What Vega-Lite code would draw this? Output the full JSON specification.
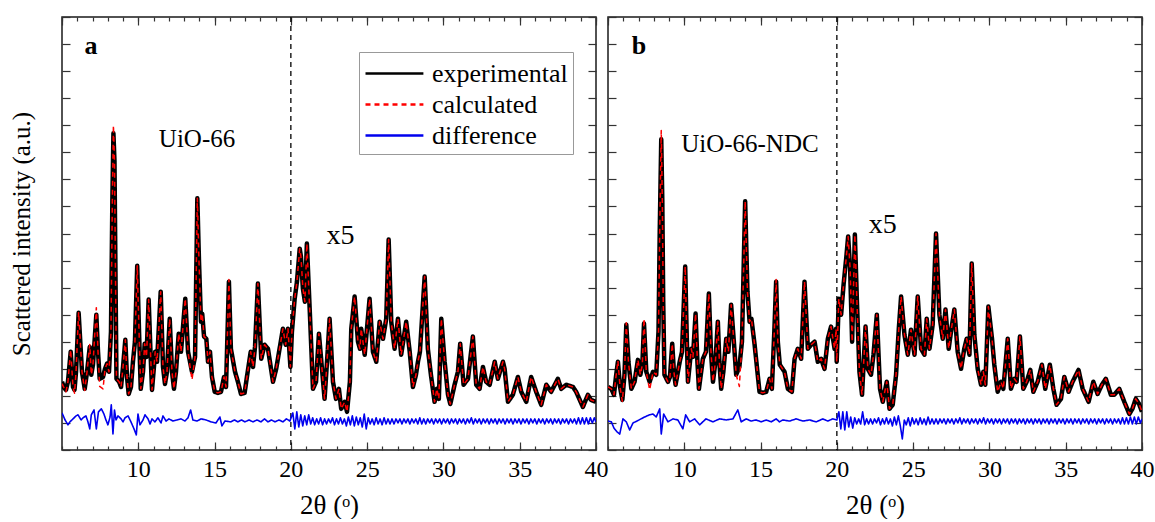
{
  "$schema": "https://vega.github.io/schema/vega-lite/v6.json",
  "background": "white",
  "padding": {"left": 8, "top": 15, "right": 0, "bottom": 0},
  "spacing": 12,
  "bounds": "flush",
  "datasets": {
    "a": [
      {"x":5.00,"e":2.52,"c":2.45},{"x":5.13,"e":2.30,"c":2.30},{"x":5.26,"e":2.22,"c":2.15},{"x":5.39,"e":2.52,"c":2.52},{"x":5.57,"e":3.63,"c":3.70},{"x":5.72,"e":2.33,"c":2.33},{"x":5.82,"e":2.22,"c":2.10},{"x":5.92,"e":2.89,"c":2.89},{"x":6.09,"e":5.07,"c":5.10},{"x":6.21,"e":3.89,"c":3.89},{"x":6.31,"e":2.89,"c":2.89},{"x":6.49,"e":2.26,"c":2.20},{"x":6.64,"e":2.89,"c":2.89},{"x":6.82,"e":3.81,"c":3.90},{"x":6.92,"e":2.78,"c":2.78},{"x":7.03,"e":3.15,"c":3.15},{"x":7.25,"e":5.00,"c":5.26},{"x":7.36,"e":3.63,"c":3.63},{"x":7.47,"e":2.63,"c":2.35},{"x":7.69,"e":2.70,"c":2.26},{"x":7.82,"e":3.00,"c":3.00},{"x":7.95,"e":3.19,"c":3.19},{"x":8.08,"e":2.89,"c":2.89},{"x":8.21,"e":4.37,"c":4.37},{"x":8.30,"e":9.19,"c":9.19},{"x":8.37,"e":11.70,"c":12.00},{"x":8.44,"e":10.67,"c":10.67},{"x":8.51,"e":6.22,"c":6.22},{"x":8.57,"e":2.63,"c":2.63},{"x":8.74,"e":2.52,"c":2.52},{"x":8.87,"e":2.33,"c":2.33},{"x":9.00,"e":3.07,"c":3.07},{"x":9.15,"e":4.07,"c":4.07},{"x":9.26,"e":2.70,"c":2.70},{"x":9.37,"e":2.07,"c":2.07},{"x":9.52,"e":2.33,"c":2.33},{"x":9.65,"e":3.26,"c":3.26},{"x":9.78,"e":4.00,"c":4.00},{"x":9.93,"e":6.81,"c":6.81},{"x":10.05,"e":4.37,"c":4.37},{"x":10.16,"e":2.26,"c":2.26},{"x":10.31,"e":2.89,"c":2.89},{"x":10.42,"e":3.93,"c":3.93},{"x":10.54,"e":3.44,"c":3.44},{"x":10.68,"e":5.56,"c":5.56},{"x":10.80,"e":3.63,"c":3.63},{"x":10.90,"e":2.22,"c":2.22},{"x":11.11,"e":3.63,"c":3.63},{"x":11.23,"e":3.26,"c":3.26},{"x":11.47,"e":5.85,"c":5.85},{"x":11.62,"e":3.07,"c":3.07},{"x":11.75,"e":2.44,"c":2.44},{"x":11.88,"e":2.89,"c":2.89},{"x":12.06,"e":4.85,"c":4.85},{"x":12.21,"e":2.89,"c":2.89},{"x":12.34,"e":2.26,"c":2.26},{"x":12.47,"e":2.89,"c":2.89},{"x":12.65,"e":4.30,"c":4.30},{"x":12.80,"e":3.63,"c":3.63},{"x":13.08,"e":5.59,"c":5.59},{"x":13.26,"e":3.63,"c":3.63},{"x":13.52,"e":2.89,"c":2.59},{"x":13.72,"e":3.44,"c":3.44},{"x":13.87,"e":9.30,"c":9.30},{"x":13.98,"e":6.96,"c":6.96},{"x":14.11,"e":4.74,"c":4.74},{"x":14.19,"e":5.04,"c":5.04},{"x":14.31,"e":4.19,"c":4.19},{"x":14.46,"e":4.11,"c":4.11},{"x":14.57,"e":3.26,"c":3.26},{"x":14.70,"e":3.63,"c":3.63},{"x":14.83,"e":2.70,"c":2.70},{"x":15.01,"e":2.15,"c":2.15},{"x":15.22,"e":2.11,"c":2.11},{"x":15.42,"e":2.15,"c":2.15},{"x":15.62,"e":2.70,"c":2.70},{"x":15.75,"e":2.33,"c":2.33},{"x":15.94,"e":6.22,"c":6.30},{"x":16.07,"e":3.74,"c":3.74},{"x":16.34,"e":2.89,"c":2.89},{"x":16.53,"e":2.52,"c":2.52},{"x":16.73,"e":2.07,"c":2.07},{"x":16.97,"e":2.11,"c":2.11},{"x":17.12,"e":2.70,"c":2.70},{"x":17.37,"e":3.63,"c":3.63},{"x":17.52,"e":3.07,"c":3.07},{"x":17.65,"e":3.81,"c":3.81},{"x":17.84,"e":6.15,"c":6.15},{"x":18.06,"e":3.37,"c":3.37},{"x":18.28,"e":3.89,"c":3.89},{"x":18.50,"e":3.74,"c":3.74},{"x":18.63,"e":3.26,"c":3.26},{"x":18.83,"e":2.52,"c":2.52},{"x":19.04,"e":3.00,"c":3.00},{"x":19.15,"e":3.37,"c":3.37},{"x":19.48,"e":4.48,"c":4.48},{"x":19.66,"e":3.89,"c":3.89},{"x":19.81,"e":4.48,"c":4.48},{"x":19.97,"e":3.07,"c":3.07},{"x":20.07,"e":4.37,"c":4.37},{"x":20.25,"e":5.59,"c":5.59},{"x":20.40,"e":6.22,"c":6.22},{"x":20.58,"e":7.44,"c":7.44},{"x":20.66,"e":7.15,"c":7.15},{"x":20.79,"e":5.96,"c":5.96},{"x":20.92,"e":5.48,"c":5.48},{"x":21.05,"e":7.63,"c":7.63},{"x":21.25,"e":5.00,"c":5.00},{"x":21.45,"e":2.26,"c":2.26},{"x":21.65,"e":2.52,"c":2.52},{"x":21.84,"e":4.30,"c":4.30},{"x":22.04,"e":3.00,"c":3.00},{"x":22.21,"e":1.89,"c":1.89},{"x":22.37,"e":3.26,"c":3.26},{"x":22.54,"e":4.85,"c":4.85},{"x":22.76,"e":2.52,"c":2.52},{"x":22.96,"e":1.89,"c":1.89},{"x":23.15,"e":2.26,"c":2.26},{"x":23.30,"e":1.52,"c":1.52},{"x":23.53,"e":1.78,"c":1.78},{"x":23.68,"e":1.41,"c":1.41},{"x":23.87,"e":2.52,"c":2.52},{"x":23.96,"e":4.48,"c":4.48},{"x":24.18,"e":5.67,"c":5.67},{"x":24.40,"e":4.00,"c":4.00},{"x":24.53,"e":3.74,"c":3.74},{"x":24.61,"e":4.48,"c":4.48},{"x":24.84,"e":3.52,"c":3.52},{"x":25.16,"e":5.59,"c":5.59},{"x":25.38,"e":3.63,"c":3.63},{"x":25.60,"e":3.26,"c":3.26},{"x":25.82,"e":4.74,"c":4.74},{"x":26.04,"e":4.11,"c":4.11},{"x":26.25,"e":4.85,"c":4.85},{"x":26.41,"e":7.78,"c":7.78},{"x":26.58,"e":4.74,"c":4.74},{"x":26.80,"e":3.74,"c":3.74},{"x":27.02,"e":4.85,"c":4.85},{"x":27.23,"e":3.52,"c":3.52},{"x":27.56,"e":4.74,"c":4.74},{"x":27.79,"e":3.63,"c":3.63},{"x":28.00,"e":2.33,"c":2.33},{"x":28.20,"e":2.78,"c":2.78},{"x":28.33,"e":3.26,"c":3.26},{"x":28.46,"e":3.63,"c":3.63},{"x":28.77,"e":6.41,"c":6.41},{"x":28.98,"e":3.74,"c":3.74},{"x":29.18,"e":2.78,"c":2.78},{"x":29.42,"e":1.78,"c":1.78},{"x":29.57,"e":2.26,"c":2.26},{"x":29.70,"e":1.89,"c":1.89},{"x":29.86,"e":4.85,"c":4.85},{"x":30.08,"e":3.26,"c":3.26},{"x":30.30,"e":2.04,"c":2.04},{"x":30.45,"e":1.70,"c":1.70},{"x":30.73,"e":2.41,"c":2.41},{"x":30.95,"e":2.89,"c":2.89},{"x":31.10,"e":3.93,"c":3.93},{"x":31.32,"e":2.41,"c":2.41},{"x":31.61,"e":2.63,"c":2.63},{"x":31.93,"e":4.19,"c":4.19},{"x":32.15,"e":2.41,"c":2.41},{"x":32.37,"e":2.26,"c":2.26},{"x":32.59,"e":3.07,"c":3.07},{"x":32.80,"e":2.52,"c":2.52},{"x":33.03,"e":2.41,"c":2.41},{"x":33.36,"e":3.26,"c":3.26},{"x":33.57,"e":2.63,"c":2.63},{"x":33.90,"e":3.26,"c":3.26},{"x":34.01,"e":3.00,"c":3.00},{"x":34.23,"e":1.78,"c":1.78},{"x":34.55,"e":2.04,"c":2.04},{"x":34.88,"e":2.70,"c":2.70},{"x":35.10,"e":2.15,"c":2.15},{"x":35.43,"e":1.78,"c":1.78},{"x":35.75,"e":2.70,"c":2.70},{"x":36.08,"e":2.15,"c":2.15},{"x":36.41,"e":1.67,"c":1.67},{"x":36.74,"e":2.41,"c":2.41},{"x":37.06,"e":2.15,"c":2.15},{"x":37.50,"e":2.63,"c":2.63},{"x":37.72,"e":2.26,"c":2.26},{"x":38.05,"e":2.41,"c":2.41},{"x":38.49,"e":2.33,"c":2.33},{"x":38.70,"e":2.15,"c":2.15},{"x":39.14,"e":1.59,"c":1.59},{"x":39.47,"e":2.04,"c":2.04},{"x":39.67,"e":1.85,"c":1.85},{"x":40.00,"e":1.78,"c":1.78}
    ],
    "ad": [
      {"x":5.00,"d":1.37},{"x":5.20,"d":1.11},{"x":5.39,"d":0.93},{"x":5.52,"d":1.04},{"x":5.72,"d":1.15},{"x":5.92,"d":1.26},{"x":6.05,"d":1.30},{"x":6.25,"d":1.11},{"x":6.38,"d":1.19},{"x":6.57,"d":1.26},{"x":6.70,"d":1.04},{"x":6.82,"d":0.78},{"x":6.92,"d":1.30},{"x":7.10,"d":1.48},{"x":7.25,"d":0.78},{"x":7.39,"d":1.41},{"x":7.58,"d":1.52},{"x":7.75,"d":1.33},{"x":7.88,"d":1.11},{"x":8.01,"d":0.93},{"x":8.15,"d":1.22},{"x":8.23,"d":1.67},{"x":8.34,"d":0.59},{"x":8.44,"d":1.48},{"x":8.54,"d":1.11},{"x":8.67,"d":1.26},{"x":8.87,"d":1.15},{"x":9.00,"d":1.04},{"x":9.13,"d":1.19},{"x":9.33,"d":1.26},{"x":9.52,"d":1.04},{"x":9.72,"d":0.78},{"x":9.87,"d":0.56},{"x":9.98,"d":1.33},{"x":10.11,"d":0.93},{"x":10.31,"d":1.11},{"x":10.44,"d":1.30},{"x":10.64,"d":1.15},{"x":10.77,"d":0.96},{"x":10.90,"d":1.15},{"x":11.09,"d":1.04},{"x":11.29,"d":1.19},{"x":11.49,"d":1.00},{"x":11.62,"d":1.26},{"x":11.82,"d":1.07},{"x":12.01,"d":1.15},{"x":12.27,"d":1.07},{"x":12.54,"d":1.11},{"x":12.80,"d":1.15},{"x":13.06,"d":1.07},{"x":13.26,"d":1.19},{"x":13.43,"d":1.48},{"x":13.58,"d":1.11},{"x":13.85,"d":1.07},{"x":14.11,"d":1.15},{"x":14.44,"d":1.11},{"x":14.76,"d":1.04},{"x":15.09,"d":1.00},{"x":15.35,"d":1.22},{"x":15.48,"d":0.89},{"x":15.68,"d":1.07},{"x":16.07,"d":1.04},{"x":16.30,"d":1.11},{"x":16.53,"d":1.04},{"x":16.76,"d":1.11},{"x":16.99,"d":1.04},{"x":17.26,"d":1.11},{"x":17.52,"d":1.04},{"x":17.78,"d":1.11},{"x":18.04,"d":1.04},{"x":18.27,"d":1.15},{"x":18.50,"d":1.04},{"x":18.73,"d":1.11},{"x":18.96,"d":1.04},{"x":19.22,"d":1.11},{"x":19.48,"d":1.04},{"x":19.71,"d":1.15},{"x":19.94,"d":1.07},
      {"x":20.13,"d":1.37},{"x":20.26,"d":0.78},{"x":20.39,"d":1.41},{"x":20.52,"d":0.85},{"x":20.65,"d":1.30},{"x":20.78,"d":0.89},{"x":20.91,"d":1.26},{"x":21.04,"d":0.93},{"x":21.17,"d":1.30},{"x":21.30,"d":0.96},{"x":21.43,"d":1.19},{"x":21.56,"d":0.93},{"x":21.69,"d":1.15},{"x":21.82,"d":0.96},{"x":21.95,"d":1.19},{"x":22.08,"d":0.93},{"x":22.21,"d":1.15},{"x":22.34,"d":0.96},{"x":22.47,"d":1.15},{"x":22.60,"d":1.00},{"x":22.73,"d":1.19},{"x":22.86,"d":0.93},{"x":22.99,"d":1.15},{"x":23.12,"d":0.96},{"x":23.25,"d":1.19},{"x":23.38,"d":0.96},{"x":23.51,"d":1.15},{"x":23.64,"d":0.89},{"x":23.77,"d":1.22},{"x":23.90,"d":0.93},{"x":24.03,"d":1.26},{"x":24.16,"d":0.89},{"x":24.29,"d":1.22},{"x":24.42,"d":0.93},{"x":24.55,"d":1.19},{"x":24.68,"d":0.85},{"x":24.81,"d":1.33},{"x":24.94,"d":0.78},{"x":25.07,"d":1.19},{"x":25.20,"d":0.96},{"x":25.33,"d":1.15},{"x":25.46,"d":0.93},{"x":25.59,"d":1.19},{"x":25.72,"d":0.96},{"x":25.85,"d":1.15},{"x":25.98,"d":0.93},{"x":26.11,"d":1.19},{"x":26.24,"d":0.96},{"x":26.37,"d":1.15},{"x":26.50,"d":0.96},{"x":26.63,"d":1.15},{"x":26.76,"d":0.96},{"x":26.89,"d":1.15},{"x":27.02,"d":1.00},{"x":27.15,"d":1.15},{"x":27.28,"d":0.96},{"x":27.41,"d":1.15},{"x":27.54,"d":1.00},{"x":27.67,"d":1.15},{"x":27.80,"d":0.96},{"x":27.93,"d":1.15},{"x":28.06,"d":1.00},{"x":28.19,"d":1.15},{"x":28.32,"d":0.96},{"x":28.45,"d":1.19},{"x":28.58,"d":0.96},{"x":28.71,"d":1.15},{"x":28.84,"d":0.96},{"x":28.97,"d":1.15},{"x":29.10,"d":1.00},{"x":29.23,"d":1.15},{"x":29.36,"d":0.96},{"x":29.49,"d":1.15},{"x":29.62,"d":1.00},{"x":29.75,"d":1.15},{"x":29.88,"d":0.96},{"x":30.01,"d":1.15},{"x":30.14,"d":1.00},{"x":30.27,"d":1.15},{"x":30.40,"d":0.96},{"x":30.53,"d":1.15},{"x":30.66,"d":1.00},{"x":30.79,"d":1.15},{"x":30.92,"d":0.96},{"x":31.05,"d":1.15},{"x":31.18,"d":1.00},{"x":31.31,"d":1.15},{"x":31.44,"d":0.96},{"x":31.57,"d":1.15},{"x":31.70,"d":1.00},{"x":31.83,"d":1.19},{"x":31.96,"d":0.96},{"x":32.09,"d":1.15},{"x":32.22,"d":1.00},{"x":32.35,"d":1.15},{"x":32.48,"d":0.96},{"x":32.61,"d":1.15},{"x":32.74,"d":1.00},{"x":32.87,"d":1.15},{"x":33.00,"d":0.96},{"x":33.13,"d":1.15},{"x":33.26,"d":1.00},{"x":33.39,"d":1.15},{"x":33.52,"d":0.96},{"x":33.65,"d":1.15},{"x":33.78,"d":1.00},{"x":33.91,"d":1.15},{"x":34.04,"d":0.96},{"x":34.17,"d":1.15},{"x":34.30,"d":1.00},{"x":34.43,"d":1.15},{"x":34.56,"d":0.96},{"x":34.69,"d":1.15},{"x":34.82,"d":1.00},{"x":34.95,"d":1.15},{"x":35.08,"d":0.96},{"x":35.21,"d":1.15},{"x":35.34,"d":1.00},{"x":35.47,"d":1.15},{"x":35.60,"d":0.96},{"x":35.73,"d":1.15},{"x":35.86,"d":1.00},{"x":35.99,"d":1.15},{"x":36.12,"d":0.96},{"x":36.25,"d":1.15},{"x":36.38,"d":1.00},{"x":36.51,"d":1.15},{"x":36.64,"d":0.96},{"x":36.77,"d":1.15},{"x":36.90,"d":1.00},{"x":37.03,"d":1.15},{"x":37.16,"d":0.96},{"x":37.29,"d":1.15},{"x":37.42,"d":1.00},{"x":37.55,"d":1.15},{"x":37.68,"d":0.96},{"x":37.81,"d":1.15},{"x":37.94,"d":1.00},{"x":38.07,"d":1.15},{"x":38.20,"d":0.96},{"x":38.33,"d":1.15},{"x":38.46,"d":1.00},{"x":38.59,"d":1.15},{"x":38.72,"d":0.96},{"x":38.85,"d":1.19},{"x":38.98,"d":0.96},{"x":39.11,"d":1.19},{"x":39.24,"d":0.96},{"x":39.37,"d":1.19},{"x":39.50,"d":0.96},{"x":39.63,"d":1.19},{"x":39.76,"d":1.00},{"x":39.89,"d":1.19},{"x":40.00,"d":1.04}
    ],
    "b": [
      {"x":5.00,"e":2.33,"c":2.33},{"x":5.22,"e":2.26,"c":2.26},{"x":5.39,"e":2.04,"c":2.04},{"x":5.52,"e":2.70,"c":2.70},{"x":5.65,"e":3.26,"c":3.30},{"x":5.79,"e":2.33,"c":2.33},{"x":5.94,"e":1.85,"c":1.80},{"x":6.08,"e":2.78,"c":2.78},{"x":6.20,"e":4.63,"c":4.70},{"x":6.34,"e":3.26,"c":3.26},{"x":6.53,"e":2.26,"c":2.26},{"x":6.74,"e":2.52,"c":2.52},{"x":6.96,"e":3.33,"c":3.33},{"x":7.12,"e":2.78,"c":2.78},{"x":7.25,"e":3.15,"c":3.15},{"x":7.36,"e":4.67,"c":4.85},{"x":7.51,"e":2.89,"c":2.89},{"x":7.73,"e":2.52,"c":2.22},{"x":7.95,"e":2.89,"c":2.89},{"x":8.16,"e":2.78,"c":2.78},{"x":8.31,"e":4.37,"c":4.37},{"x":8.39,"e":8.07,"c":8.07},{"x":8.49,"e":11.48,"c":11.81},{"x":8.56,"e":9.19,"c":9.19},{"x":8.62,"e":5.48,"c":5.48},{"x":8.70,"e":2.78,"c":2.78},{"x":8.93,"e":2.52,"c":2.52},{"x":9.06,"e":2.70,"c":2.70},{"x":9.21,"e":3.93,"c":3.93},{"x":9.32,"e":2.89,"c":2.89},{"x":9.43,"e":2.41,"c":2.41},{"x":9.70,"e":3.26,"c":3.26},{"x":9.85,"e":3.63,"c":3.63},{"x":10.06,"e":6.78,"c":6.78},{"x":10.17,"e":4.00,"c":4.00},{"x":10.24,"e":2.52,"c":2.52},{"x":10.46,"e":3.74,"c":3.74},{"x":10.57,"e":3.44,"c":3.44},{"x":10.74,"e":5.04,"c":5.04},{"x":10.86,"e":3.26,"c":3.26},{"x":10.96,"e":2.26,"c":2.26},{"x":11.22,"e":3.37,"c":3.37},{"x":11.42,"e":3.63,"c":3.63},{"x":11.61,"e":5.78,"c":5.78},{"x":11.75,"e":3.63,"c":3.63},{"x":11.88,"e":2.52,"c":2.52},{"x":12.04,"e":3.26,"c":3.26},{"x":12.20,"e":4.74,"c":4.74},{"x":12.30,"e":3.26,"c":3.26},{"x":12.42,"e":2.26,"c":2.26},{"x":12.56,"e":2.89,"c":2.89},{"x":12.75,"e":4.11,"c":4.11},{"x":12.89,"e":3.63,"c":3.63},{"x":13.07,"e":5.37,"c":5.37},{"x":13.25,"e":4.00,"c":4.00},{"x":13.40,"e":2.78,"c":2.78},{"x":13.61,"e":3.07,"c":2.35},{"x":13.78,"e":4.00,"c":4.00},{"x":13.99,"e":9.19,"c":9.19},{"x":14.14,"e":5.85,"c":5.85},{"x":14.28,"e":4.74,"c":4.74},{"x":14.40,"e":4.85,"c":4.85},{"x":14.61,"e":3.89,"c":3.89},{"x":14.76,"e":3.07,"c":3.07},{"x":14.93,"e":2.15,"c":2.15},{"x":15.15,"e":2.11,"c":2.11},{"x":15.37,"e":2.15,"c":2.15},{"x":15.59,"e":2.63,"c":2.63},{"x":15.74,"e":2.26,"c":2.26},{"x":15.90,"e":4.37,"c":4.37},{"x":16.02,"e":6.22,"c":6.30},{"x":16.13,"e":4.00,"c":4.00},{"x":16.26,"e":3.15,"c":3.15},{"x":16.57,"e":2.89,"c":2.89},{"x":16.79,"e":2.26,"c":2.26},{"x":17.05,"e":2.15,"c":2.15},{"x":17.23,"e":3.37,"c":3.37},{"x":17.44,"e":3.74,"c":3.74},{"x":17.66,"e":3.37,"c":3.37},{"x":17.88,"e":6.22,"c":6.22},{"x":18.10,"e":3.74,"c":3.74},{"x":18.31,"e":3.89,"c":3.89},{"x":18.54,"e":4.00,"c":4.00},{"x":18.75,"e":3.26,"c":3.26},{"x":18.97,"e":3.37,"c":3.37},{"x":19.19,"e":3.00,"c":3.00},{"x":19.41,"e":4.11,"c":4.11},{"x":19.62,"e":4.56,"c":4.56},{"x":19.85,"e":3.74,"c":3.74},{"x":19.95,"e":4.48,"c":4.48},{"x":19.99,"e":3.26,"c":3.26},{"x":20.13,"e":5.59,"c":5.59},{"x":20.28,"e":5.00,"c":5.00},{"x":20.44,"e":6.11,"c":6.11},{"x":20.61,"e":7.07,"c":7.07},{"x":20.74,"e":7.89,"c":7.89},{"x":20.87,"e":6.70,"c":6.70},{"x":21.00,"e":4.00,"c":4.00},{"x":21.18,"e":7.96,"c":7.96},{"x":21.31,"e":5.59,"c":5.59},{"x":21.48,"e":2.89,"c":2.89},{"x":21.65,"e":2.04,"c":2.04},{"x":21.88,"e":4.56,"c":4.56},{"x":22.03,"e":3.00,"c":3.00},{"x":22.24,"e":2.78,"c":2.78},{"x":22.40,"e":3.52,"c":3.52},{"x":22.62,"e":5.00,"c":5.00},{"x":22.83,"e":2.26,"c":2.26},{"x":23.01,"e":1.78,"c":1.78},{"x":23.27,"e":2.52,"c":2.52},{"x":23.45,"e":1.52,"c":1.52},{"x":23.66,"e":1.67,"c":1.67},{"x":23.88,"e":2.78,"c":2.78},{"x":24.06,"e":4.48,"c":4.48},{"x":24.21,"e":5.67,"c":5.67},{"x":24.43,"e":4.26,"c":4.26},{"x":24.65,"e":3.52,"c":3.52},{"x":24.86,"e":4.44,"c":4.44},{"x":25.09,"e":3.52,"c":3.52},{"x":25.30,"e":5.67,"c":5.67},{"x":25.52,"e":3.74,"c":3.74},{"x":25.74,"e":3.52,"c":3.52},{"x":25.89,"e":4.85,"c":4.85},{"x":26.07,"e":3.74,"c":3.74},{"x":26.28,"e":4.63,"c":4.63},{"x":26.50,"e":8.00,"c":8.00},{"x":26.72,"e":5.00,"c":5.00},{"x":26.94,"e":4.11,"c":4.11},{"x":27.12,"e":5.19,"c":5.19},{"x":27.33,"e":3.74,"c":3.74},{"x":27.48,"e":4.37,"c":4.37},{"x":27.70,"e":5.19,"c":5.19},{"x":27.92,"e":3.63,"c":3.63},{"x":28.14,"e":3.00,"c":3.00},{"x":28.35,"e":3.74,"c":3.74},{"x":28.51,"e":4.11,"c":4.11},{"x":28.69,"e":3.52,"c":3.52},{"x":28.84,"e":6.89,"c":6.89},{"x":29.01,"e":4.26,"c":4.26},{"x":29.23,"e":3.00,"c":3.00},{"x":29.45,"e":2.41,"c":2.41},{"x":29.60,"e":2.89,"c":2.89},{"x":29.73,"e":2.41,"c":2.41},{"x":29.93,"e":5.30,"c":5.30},{"x":30.17,"e":4.11,"c":4.11},{"x":30.32,"e":3.15,"c":3.15},{"x":30.54,"e":2.15,"c":2.15},{"x":30.76,"e":2.52,"c":2.52},{"x":30.91,"e":2.26,"c":2.26},{"x":31.20,"e":4.11,"c":4.11},{"x":31.41,"e":2.26,"c":2.26},{"x":31.63,"e":2.63,"c":2.63},{"x":31.78,"e":2.52,"c":2.52},{"x":32.00,"e":4.19,"c":4.19},{"x":32.22,"e":2.26,"c":2.26},{"x":32.44,"e":2.52,"c":2.52},{"x":32.68,"e":2.96,"c":2.96},{"x":32.88,"e":2.15,"c":2.15},{"x":33.16,"e":2.52,"c":2.52},{"x":33.44,"e":3.15,"c":3.15},{"x":33.66,"e":2.26,"c":2.26},{"x":33.96,"e":3.15,"c":3.15},{"x":34.19,"e":2.26,"c":2.26},{"x":34.40,"e":1.67,"c":1.67},{"x":34.69,"e":1.89,"c":1.89},{"x":34.91,"e":2.70,"c":2.70},{"x":35.19,"e":2.15,"c":2.15},{"x":35.45,"e":2.52,"c":2.52},{"x":35.84,"e":2.96,"c":2.96},{"x":36.11,"e":2.26,"c":2.26},{"x":36.50,"e":1.78,"c":1.78},{"x":36.81,"e":2.52,"c":2.52},{"x":37.09,"e":2.07,"c":2.07},{"x":37.37,"e":2.41,"c":2.41},{"x":37.63,"e":2.63,"c":2.63},{"x":37.96,"e":2.04,"c":2.04},{"x":38.18,"e":2.04,"c":2.04},{"x":38.51,"e":2.26,"c":2.26},{"x":38.84,"e":1.78,"c":1.78},{"x":39.17,"e":1.33,"c":1.33},{"x":39.37,"e":1.52,"c":1.52},{"x":39.59,"e":1.89,"c":1.89},{"x":39.81,"e":1.70,"c":1.70},{"x":40.00,"e":1.41,"c":1.41}
    ],
    "bd": [
      {"x":5.00,"d":1.07},{"x":5.22,"d":1.04},{"x":5.39,"d":0.81},{"x":5.59,"d":0.67},{"x":5.77,"d":0.59},{"x":5.98,"d":1.15},{"x":6.20,"d":1.04},{"x":6.42,"d":0.74},{"x":6.64,"d":1.00},{"x":6.90,"d":1.07},{"x":7.16,"d":1.15},{"x":7.40,"d":1.22},{"x":7.73,"d":1.30},{"x":7.95,"d":1.33},{"x":8.16,"d":1.22},{"x":8.39,"d":1.52},{"x":8.49,"d":0.59},{"x":8.65,"d":1.33},{"x":8.93,"d":1.04},{"x":9.26,"d":1.15},{"x":9.58,"d":1.11},{"x":9.91,"d":0.78},{"x":10.09,"d":1.30},{"x":10.35,"d":1.04},{"x":10.68,"d":1.15},{"x":11.01,"d":0.93},{"x":11.42,"d":1.15},{"x":11.88,"d":1.04},{"x":12.31,"d":1.15},{"x":12.75,"d":1.11},{"x":13.19,"d":1.15},{"x":13.51,"d":1.48},{"x":13.73,"d":1.04},{"x":14.06,"d":1.15},{"x":14.38,"d":1.07},{"x":14.71,"d":1.11},{"x":15.04,"d":1.04},{"x":15.37,"d":1.11},{"x":15.70,"d":1.04},{"x":16.02,"d":1.15},{"x":16.24,"d":1.04},{"x":16.46,"d":1.11},{"x":16.90,"d":1.07},{"x":17.33,"d":1.15},{"x":17.77,"d":1.07},{"x":18.21,"d":1.11},{"x":18.65,"d":1.04},{"x":19.08,"d":1.15},{"x":19.40,"d":1.07},{"x":19.73,"d":1.15},{"x":20.00,"d":1.11},
      {"x":20.13,"d":1.41},{"x":20.26,"d":0.78},{"x":20.39,"d":1.41},{"x":20.52,"d":0.74},{"x":20.65,"d":1.41},{"x":20.78,"d":0.85},{"x":20.91,"d":1.22},{"x":21.04,"d":0.81},{"x":21.17,"d":1.19},{"x":21.30,"d":0.96},{"x":21.43,"d":1.15},{"x":21.56,"d":0.96},{"x":21.69,"d":1.41},{"x":21.82,"d":0.93},{"x":21.95,"d":1.15},{"x":22.08,"d":0.96},{"x":22.21,"d":1.15},{"x":22.34,"d":0.96},{"x":22.47,"d":1.15},{"x":22.60,"d":1.00},{"x":22.73,"d":1.19},{"x":22.86,"d":0.93},{"x":22.99,"d":1.15},{"x":23.12,"d":0.96},{"x":23.25,"d":1.19},{"x":23.38,"d":0.96},{"x":23.51,"d":1.15},{"x":23.64,"d":0.89},{"x":23.77,"d":1.22},{"x":23.90,"d":0.93},{"x":24.03,"d":1.26},{"x":24.16,"d":0.89},{"x":24.29,"d":0.41},{"x":24.42,"d":1.11},{"x":24.55,"d":0.93},{"x":24.68,"d":1.19},{"x":24.81,"d":0.89},{"x":24.94,"d":1.19},{"x":25.07,"d":0.96},{"x":25.20,"d":1.15},{"x":25.33,"d":0.93},{"x":25.46,"d":1.19},{"x":25.59,"d":0.96},{"x":25.72,"d":1.15},{"x":25.85,"d":0.93},{"x":25.98,"d":1.22},{"x":26.11,"d":0.96},{"x":26.24,"d":1.15},{"x":26.37,"d":0.96},{"x":26.50,"d":1.15},{"x":26.63,"d":0.96},{"x":26.76,"d":1.15},{"x":26.89,"d":1.00},{"x":27.02,"d":1.15},{"x":27.15,"d":0.96},{"x":27.28,"d":1.15},{"x":27.41,"d":1.00},{"x":27.54,"d":1.15},{"x":27.67,"d":0.96},{"x":27.80,"d":1.15},{"x":27.93,"d":1.00},{"x":28.06,"d":1.19},{"x":28.19,"d":0.96},{"x":28.32,"d":1.15},{"x":28.45,"d":1.00},{"x":28.58,"d":1.15},{"x":28.71,"d":0.96},{"x":28.84,"d":1.15},{"x":28.97,"d":1.00},{"x":29.10,"d":1.15},{"x":29.23,"d":0.96},{"x":29.36,"d":1.15},{"x":29.49,"d":1.00},{"x":29.62,"d":1.19},{"x":29.75,"d":0.96},{"x":29.88,"d":1.15},{"x":30.01,"d":1.00},{"x":30.14,"d":1.15},{"x":30.27,"d":0.96},{"x":30.40,"d":1.15},{"x":30.53,"d":1.00},{"x":30.66,"d":1.15},{"x":30.79,"d":0.96},{"x":30.92,"d":1.15},{"x":31.05,"d":1.00},{"x":31.18,"d":1.15},{"x":31.31,"d":0.96},{"x":31.44,"d":1.15},{"x":31.57,"d":1.00},{"x":31.70,"d":1.15},{"x":31.83,"d":0.96},{"x":31.96,"d":1.15},{"x":32.09,"d":1.00},{"x":32.22,"d":1.15},{"x":32.35,"d":0.96},{"x":32.48,"d":1.15},{"x":32.61,"d":1.00},{"x":32.74,"d":1.15},{"x":32.87,"d":0.96},{"x":33.00,"d":1.15},{"x":33.13,"d":1.00},{"x":33.26,"d":1.15},{"x":33.39,"d":0.96},{"x":33.52,"d":1.15},{"x":33.65,"d":1.00},{"x":33.78,"d":1.15},{"x":33.91,"d":0.96},{"x":34.04,"d":1.15},{"x":34.17,"d":1.00},{"x":34.30,"d":1.15},{"x":34.43,"d":0.96},{"x":34.56,"d":1.15},{"x":34.69,"d":1.00},{"x":34.82,"d":1.15},{"x":34.95,"d":0.96},{"x":35.08,"d":1.15},{"x":35.21,"d":1.00},{"x":35.34,"d":1.15},{"x":35.47,"d":0.96},{"x":35.60,"d":1.15},{"x":35.73,"d":1.00},{"x":35.86,"d":1.15},{"x":35.99,"d":0.96},{"x":36.12,"d":1.15},{"x":36.25,"d":1.00},{"x":36.38,"d":1.15},{"x":36.51,"d":0.96},{"x":36.64,"d":1.15},{"x":36.77,"d":1.00},{"x":36.90,"d":1.15},{"x":37.03,"d":0.96},{"x":37.16,"d":1.15},{"x":37.29,"d":1.00},{"x":37.42,"d":1.15},{"x":37.55,"d":0.96},{"x":37.68,"d":1.15},{"x":37.81,"d":1.00},{"x":37.94,"d":1.15},{"x":38.07,"d":0.96},{"x":38.20,"d":1.15},{"x":38.33,"d":1.00},{"x":38.46,"d":1.15},{"x":38.59,"d":0.96},{"x":38.72,"d":1.19},{"x":38.85,"d":0.96},{"x":38.98,"d":1.19},{"x":39.11,"d":0.96},{"x":39.24,"d":1.22},{"x":39.37,"d":0.96},{"x":39.50,"d":1.22},{"x":39.63,"d":0.96},{"x":39.76,"d":1.22},{"x":39.89,"d":1.00},{"x":40.00,"d":1.15}
    ]
  },
  "hconcat": [
    {
      "width": 534,
      "height": 433,
      "resolve": {"axis": {"x": "independent", "y": "independent"}},
      "layer": [
        {
          "data": {"values": [{"x": 20}]},
          "mark": {"type": "rule", "color": "#000", "strokeDash": [5, 4], "strokeWidth": 1.3},
          "encoding": {
            "x": {"field": "x", "type": "quantitative", "scale": {"domain": [5, 40], "nice": false, "zero": false},
                  "axis": {"orient": "top", "values": [5,6,7,8,9,10,11,12,13,14,15,16,17,18,19,20,21,22,23,24,25,26,27,28,29,30,31,32,33,34,35,36,37,38,39,40], "tickSize": -4, "labels": false, "title": null}}
          }
        },
        {
          "data": {"name": "a"},
          "mark": {"type": "line", "strokeJoin": "round", "strokeWidth": 4.5, "clip": true},
          "encoding": {
            "x": {"field": "x", "type": "quantitative", "scale": {"domain": [5, 40], "nice": false, "zero": false},
                  "axis": {"orient": "bottom", "values": [10,15,20,25,30,35,40], "tickSize": -8, "labelPadding": 15, "title": "2θ (ᵒ)", "titlePadding": 11, "titleFontSize": 27}},
            "y": {"field": "e", "type": "quantitative", "scale": {"domain": [0, 16], "nice": false, "zero": false},
                  "axis": {"orient": "left", "values": [0,1,2,3,4,5,6,7,8,9,10,11,12,13,14,15,16], "tickSize": -8, "labels": false, "title": "Scattered intensity (a.u.)", "titlePadding": 27}},
            "color": {"datum": "experimental", "type": "nominal", "scale": {"domain": ["experimental", "calculated", "difference"], "range": ["#000000", "#ff0000", "#0000ee"]},
                      "legend": {"orient": "none", "legendX": 297, "legendY": 35, "title": null}},
            "strokeDash": {"datum": "experimental", "type": "nominal", "scale": {"domain": ["experimental", "calculated", "difference"], "range": [[1, 0], [5, 4], [1, 0]]},
                      "legend": {"orient": "none", "legendX": 297, "legendY": 35, "title": null}}
          }
        },
        {
          "data": {"name": "ad"},
          "mark": {"type": "line", "strokeJoin": "round", "strokeWidth": 1.6, "clip": true},
          "encoding": {
            "x": {"field": "x", "type": "quantitative",
                  "axis": {"orient": "top", "values": [5,10,15,20,25,30,35,40], "tickSize": -8, "labels": false, "title": null}},
            "y": {"field": "d", "type": "quantitative",
                  "axis": {"orient": "right", "values": [0,1,2,3,4,5,6,7,8,9,10,11,12,13,14,15,16], "tickSize": -8, "labels": false, "title": null}},
            "color": {"datum": "difference", "type": "nominal"},
            "strokeDash": {"datum": "difference", "type": "nominal"}
          }
        },
        {
          "data": {"name": "a"},
          "mark": {"type": "line", "strokeJoin": "round", "strokeWidth": 1.5, "clip": true},
          "encoding": {
            "x": {"field": "x", "type": "quantitative",
                  "axis": {"orient": "bottom", "values": [5,6,7,8,9,10,11,12,13,14,15,16,17,18,19,20,21,22,23,24,25,26,27,28,29,30,31,32,33,34,35,36,37,38,39,40], "tickSize": -4, "labels": false, "title": null}},
            "y": {"field": "c", "type": "quantitative", "axis": null},
            "color": {"datum": "calculated", "type": "nominal"},
            "strokeDash": {"datum": "calculated", "type": "nominal"}
          }
        },
        {
          "data": {"values": [{"x": 6.9, "y": 14.93, "t": "a"}]},
          "mark": {"type": "text", "font": "Liberation Serif", "fontSize": 26, "fontWeight": "bold", "align": "center", "baseline": "middle", "color": "#000"},
          "encoding": {
            "x": {"field": "x", "type": "quantitative", "axis": null},
            "y": {"field": "y", "type": "quantitative", "axis": null},
            "text": {"field": "t"}
          }
        },
        {
          "data": {"values": [{"x": 13.85, "y": 11.48, "t": "UiO-66", "s": 25}, {"x": 23.25, "y": 7.9, "t": "x5", "s": 28}]},
          "mark": {"type": "text", "font": "Liberation Serif", "align": "center", "baseline": "middle", "color": "#000"},
          "encoding": {
            "x": {"field": "x", "type": "quantitative", "axis": null},
            "y": {"field": "y", "type": "quantitative", "axis": null},
            "text": {"field": "t"},
            "size": {"field": "s", "type": "quantitative", "scale": null, "legend": null}
          }
        }
      ]
    },
    {
      "width": 534,
      "height": 433,
      "resolve": {"axis": {"x": "independent", "y": "independent"}},
      "layer": [
        {
          "data": {"values": [{"x": 20}]},
          "mark": {"type": "rule", "color": "#000", "strokeDash": [5, 4], "strokeWidth": 1.3},
          "encoding": {
            "x": {"field": "x", "type": "quantitative", "scale": {"domain": [5, 40], "nice": false, "zero": false},
                  "axis": {"orient": "top", "values": [5,6,7,8,9,10,11,12,13,14,15,16,17,18,19,20,21,22,23,24,25,26,27,28,29,30,31,32,33,34,35,36,37,38,39,40], "tickSize": -4, "labels": false, "title": null}}
          }
        },
        {
          "data": {"name": "b"},
          "mark": {"type": "line", "strokeJoin": "round", "strokeWidth": 4.5, "clip": true},
          "encoding": {
            "x": {"field": "x", "type": "quantitative", "scale": {"domain": [5, 40], "nice": false, "zero": false},
                  "axis": {"orient": "bottom", "values": [10,15,20,25,30,35,40], "tickSize": -8, "labelPadding": 15, "title": "2θ (ᵒ)", "titlePadding": 11, "titleFontSize": 27}},
            "y": {"field": "e", "type": "quantitative", "scale": {"domain": [0, 16], "nice": false, "zero": false},
                  "axis": {"orient": "left", "values": [0,1,2,3,4,5,6,7,8,9,10,11,12,13,14,15,16], "tickSize": -8, "labels": false, "title": null}},
            "color": {"datum": "experimental", "type": "nominal"},
            "strokeDash": {"datum": "experimental", "type": "nominal"}
          }
        },
        {
          "data": {"name": "bd"},
          "mark": {"type": "line", "strokeJoin": "round", "strokeWidth": 1.6, "clip": true},
          "encoding": {
            "x": {"field": "x", "type": "quantitative",
                  "axis": {"orient": "top", "values": [5,10,15,20,25,30,35,40], "tickSize": -8, "labels": false, "title": null}},
            "y": {"field": "d", "type": "quantitative",
                  "axis": {"orient": "right", "values": [0,1,2,3,4,5,6,7,8,9,10,11,12,13,14,15,16], "tickSize": -8, "labels": false, "title": null}},
            "color": {"datum": "difference", "type": "nominal"},
            "strokeDash": {"datum": "difference", "type": "nominal"}
          }
        },
        {
          "data": {"name": "b"},
          "mark": {"type": "line", "strokeJoin": "round", "strokeWidth": 1.5, "clip": true},
          "encoding": {
            "x": {"field": "x", "type": "quantitative",
                  "axis": {"orient": "bottom", "values": [5,6,7,8,9,10,11,12,13,14,15,16,17,18,19,20,21,22,23,24,25,26,27,28,29,30,31,32,33,34,35,36,37,38,39,40], "tickSize": -4, "labels": false, "title": null}},
            "y": {"field": "c", "type": "quantitative", "axis": null},
            "color": {"datum": "calculated", "type": "nominal"},
            "strokeDash": {"datum": "calculated", "type": "nominal"}
          }
        },
        {
          "data": {"values": [{"x": 7.03, "y": 14.93, "t": "b"}]},
          "mark": {"type": "text", "font": "Liberation Serif", "fontSize": 26, "fontWeight": "bold", "align": "center", "baseline": "middle", "color": "#000"},
          "encoding": {
            "x": {"field": "x", "type": "quantitative", "axis": null},
            "y": {"field": "y", "type": "quantitative", "axis": null},
            "text": {"field": "t"}
          }
        },
        {
          "data": {"values": [{"x": 14.30, "y": 11.30, "t": "UiO-66-NDC", "s": 25}, {"x": 23.01, "y": 8.3, "t": "x5", "s": 28}]},
          "mark": {"type": "text", "font": "Liberation Serif", "align": "center", "baseline": "middle", "color": "#000"},
          "encoding": {
            "x": {"field": "x", "type": "quantitative", "axis": null},
            "y": {"field": "y", "type": "quantitative", "axis": null},
            "text": {"field": "t"},
            "size": {"field": "s", "type": "quantitative", "scale": null, "legend": null}
          }
        }
      ]
    }
  ],
  "config": {
    "view": {"stroke": "#1a1a1a", "strokeWidth": 1.5},
    "axis": {"domain": false, "grid": false, "labelFont": "Liberation Serif", "labelFontSize": 24, "labelColor": "#000", "titleFont": "Liberation Serif", "titleFontSize": 25, "titleFontWeight": "normal", "titleColor": "#000", "tickColor": "#333", "tickWidth": 1.2, "labelFlush": false, "labelOverlap": false},
    "legend": {"symbolType": "M-1,0H2.86", "symbolSize": 900, "symbolStrokeWidth": 2.5, "labelFont": "Liberation Serif", "labelFontSize": 26, "labelColor": "#000", "strokeColor": "#999", "fillColor": "#fff", "padding": 5, "rowPadding": 1, "labelOffset": 35, "labelLimit": 0, "symbolOffset": 0}
  }
}
